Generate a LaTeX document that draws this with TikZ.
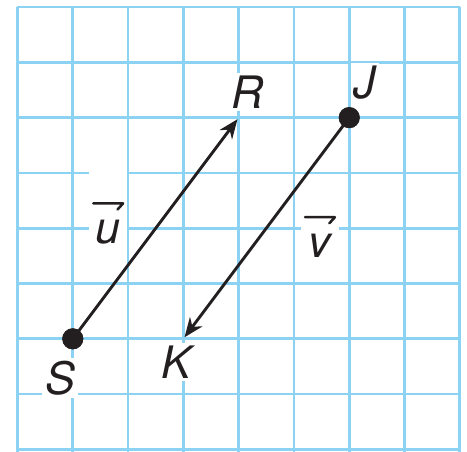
\documentclass[tikz,border=0pt]{standalone}
\usepackage{fontspec}
\setmainfont{TeX Gyre Heros}
\usetikzlibrary{arrows.meta}
\definecolor{gridblue}{RGB}{140,210,243}
\definecolor{ink}{RGB}{35,31,32}
\newcommand{\harpvec}[1]{\begin{tabular}{@{}c@{}}\tikz\draw[ink,line width=1.3pt,line cap=round,line join=round] (0,0)--(0.54,0)--(0.44,-0.11);\\[-9pt]#1\end{tabular}}
\tikzset{
  pt/.style={circle,fill=ink,inner sep=0pt,minimum size=0.38cm},
  lbl/.style={fill=white,inner sep=1.5pt,text=ink,font=\fontsize{23}{26}\selectfont\itshape},
  vec/.style={draw=ink,line width=1.5pt,-{Stealth[length=10pt,width=8pt]},shorten >=1pt}
}
\begin{document}
\begin{tikzpicture}
\useasboundingbox (-0.316,-0.046) rectangle (8.129,8.127);
\draw[gridblue,line width=1.4pt] (0,-0.1) grid (8,8);
\node[pt] (S) at (1,2) {};
\node[pt] (J) at (6,6) {};
\coordinate (R) at (4,6);
\coordinate (K) at (3,2);
\draw[vec] (S.center) -- (R);
\draw[vec] (J.center) -- (K);
\node[pt] at (S) {};
\node[pt] at (J) {};
\node[lbl] (lR) at (4.17,6.46) {R};
\node[lbl] (lJ) at (6.28,6.64) {J};
\node[lbl] (lS) at (0.77,1.29) {S};
\node[lbl] (lK) at (2.88,1.58) {K};
\node[lbl] (lu) at (1.64,4.2) {\harpvec{u}};
\node[lbl] (lv) at (5.47,3.95) {\harpvec{v}};
\end{tikzpicture}
\end{document}
